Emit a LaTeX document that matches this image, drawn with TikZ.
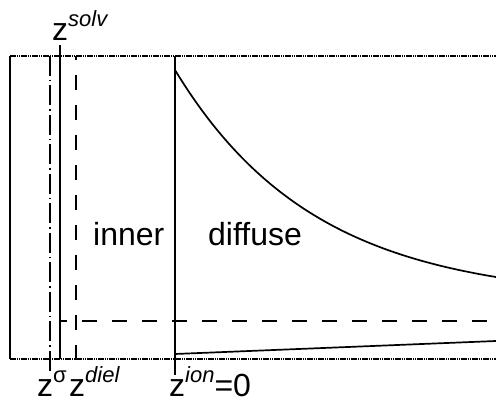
\documentclass[tikz,border=0pt]{standalone}
\usepackage{fontspec}
\setmainfont{Liberation Sans}
\newcommand{\etsup}[1]{\raisebox{0.46em}{\fontsize{22}{22}\selectfont\itshape #1}}
\begin{document}
\begin{tikzpicture}[
        x=1pt, y=-1pt,
        linea/.style={line width=1.2pt},
        curva/.style={line width=1.7pt},
        borde/.style={line width=1.1pt, dash pattern=on 1.5pt off 0.7pt},
        rayas/.style={line width=1.2pt, dash pattern=on 15pt off 15pt},
        puntoraya/.style={line width=1.2pt, dash pattern=on 20pt off 4pt on 1.5pt off 4pt},
        etiqueta/.style={font=\fontsize{32}{38}\selectfont, inner sep=0pt, anchor=base west}
    ]
        \useasboundingbox (0,0) rectangle (496,406);

        % Marco
        \draw[linea] (10,56) -- (10,359);
        \draw[borde] (10,56) -- (496,56);
        \draw[borde] (10,359) -- (496,359);

        % Planos
        \draw[puntoraya] (50,56) -- (50,373);
        \draw[linea] (60,45) -- (60,359);
        \draw[rayas, dash phase=11pt] (76,56) -- (76,373);
        \draw[linea] (175,56) -- (175,375);
        \draw[rayas, dash phase=8pt] (60,321) -- (496,321);

        % Curvas
        \draw[curva, domain=175:496, samples=80, smooth]
            plot (\x, {300-230*exp(-(\x-175)/139.4)});
        \draw[curva] (175,354) -- (496,341);

        % Etiquetas
        \node[etiqueta] (solv) at (52,41) {z\etsup{solv}};
        \node[etiqueta] (sigma) at (37,397) {z\etsup{\upshape σ}};
        \node[etiqueta] (diel) at (69,397) {z\etsup{diel}};
        \node[etiqueta] (ion) at (169,397) {z\etsup{ion}=0};
        \node[etiqueta] (inner) at (93,246) {inner};
        \node[etiqueta] (diffuse) at (208,246) {diffuse};
    \end{tikzpicture}
\end{document}
